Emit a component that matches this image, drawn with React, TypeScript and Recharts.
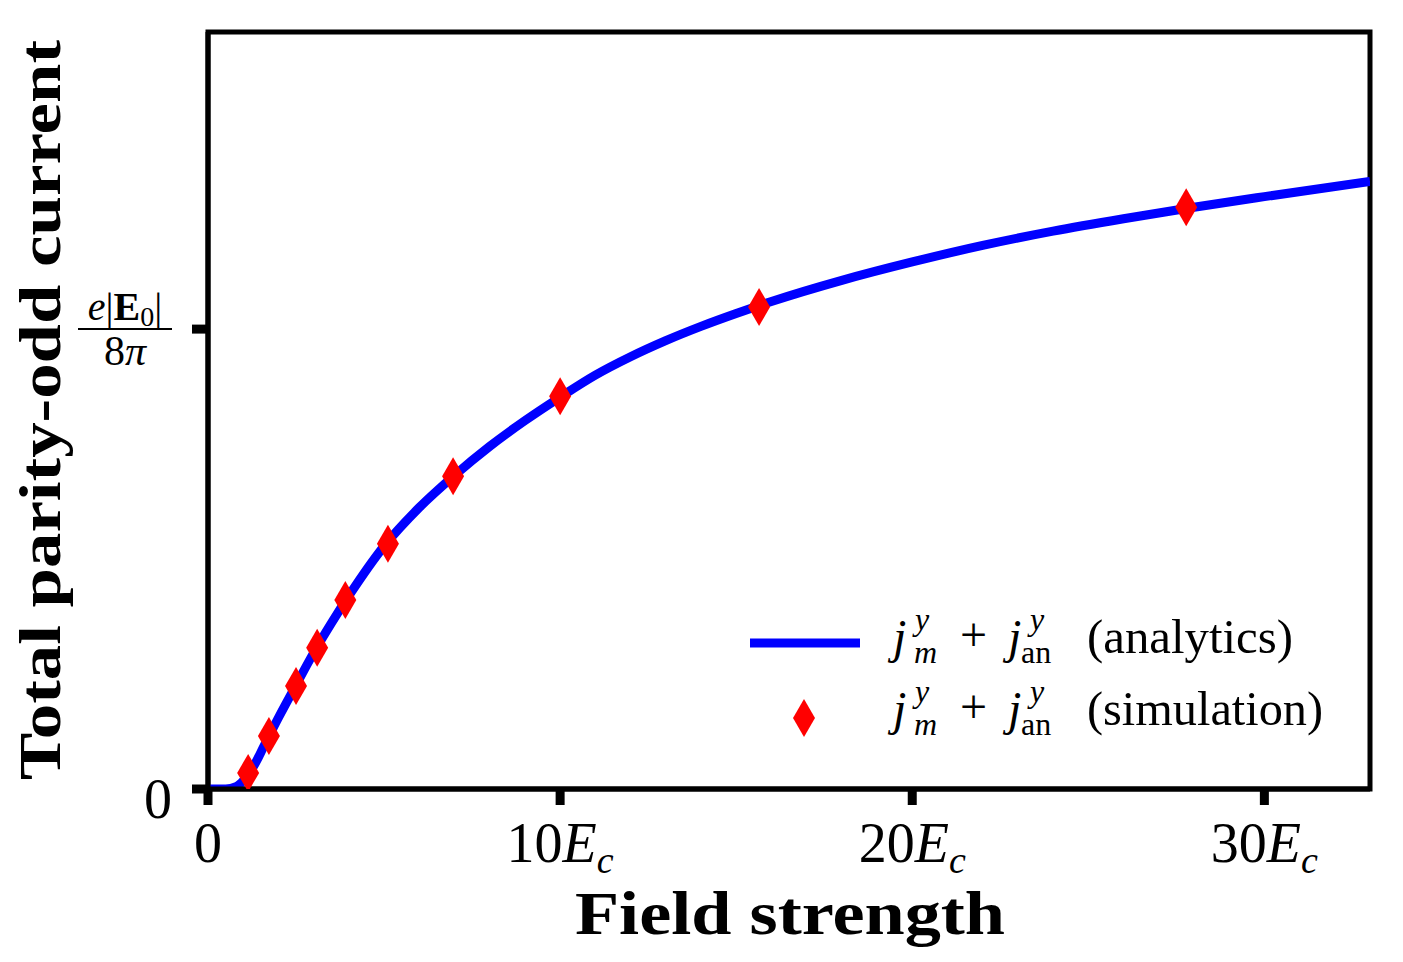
import React from 'react';
import {
  ComposedChart,
  Line,
  Scatter,
  XAxis,
  YAxis,
  ReferenceArea,
  Label,
} from 'recharts';

// analytic curve (x in units of E_c, y in units of e|E0|/8π)
const analyticX = [0, 0.5, 0.8, 1, 1.3, 1.6, 2, 2.5, 3, 3.5, 4, 5, 6, 7, 8, 9, 10, 11, 12, 13, 14, 15, 16, 18, 20, 22, 24, 26, 28, 30, 33];
const analyticY = [0, 0, 0.005, 0.018, 0.05, 0.095, 0.155, 0.226, 0.296, 0.36, 0.42, 0.528, 0.612, 0.682, 0.745, 0.801, 0.852, 0.9, 0.94, 0.975, 1.006, 1.034, 1.06, 1.106, 1.146, 1.182, 1.213, 1.24, 1.265, 1.288, 1.321];

// simulation points
const simX = [1.14, 1.73, 2.5, 3.1, 3.9, 5.11, 6.96, 10.0, 15.65, 27.78];
const simY = [0.035, 0.115, 0.224, 0.307, 0.411, 0.533, 0.68, 0.854, 1.048, 1.265];

const xTicks = [0, 10, 20, 30];
const yTicks = [0, 1];

const analytic = analyticX.map((x, i) => ({ x, y: analyticY[i] }));
const simulation = simX.map((x, i) => ({ x, y: simY[i] }));

const FONT = '"Liberation Serif", "DejaVu Serif", serif';

const Diamond = ({ cx, cy }: any) => (
  <polygon
    points={`${cx},${cy - 19} ${cx + 11},${cy} ${cx},${cy + 19} ${cx - 11},${cy}`}
    fill="#ff0000"
  />
);

const XTick = ({ x, y, payload }: any) => {
  const v = payload.value;
  if (v === 0) {
    return (
      <text x={x} y={y + 55} textAnchor="middle" fontFamily={FONT} fontSize={56} fill="#000">
        0
      </text>
    );
  }
  return (
    <text x={x} y={y + 55} textAnchor="middle" fontFamily={FONT} fontSize={56} fill="#000">
      {v}
      <tspan fontStyle="italic">E</tspan>
      <tspan fontStyle="italic" fontSize={38} dy={11}>c</tspan>
    </text>
  );
};

const YTick = ({ x, y, payload }: any) => {
  if (payload.value === 0) {
    return (
      <text x={x - 18} y={y + 29} textAnchor="end" fontFamily={FONT} fontSize={56} fill="#000">
        0
      </text>
    );
  }
  const cx = 125;
  return (
    <g fontFamily={FONT} fill="#000">
      <text x={cx} y={y - 9} textAnchor="middle" fontSize={40}>
        <tspan fontStyle="italic">e</tspan>|<tspan fontWeight="bold">E</tspan>
        <tspan fontSize={28} dy={6}>0</tspan>
        <tspan dy={-6}>|</tspan>
      </text>
      <line x1={cx - 47} x2={cx + 47} y1={y} y2={y} stroke="#000" strokeWidth={2} />
      <text x={cx} y={y + 36} textAnchor="middle" fontSize={42}>
        8<tspan fontStyle="italic">π</tspan>
      </text>
    </g>
  );
};

const JSum = ({ y }: { y: number }) => (
  <g fontFamily={FONT} fill="#000">
    <text x={153} y={y} fontSize={48} fontStyle="italic">j</text>
    <text x={175} y={y - 23} fontSize={32} fontStyle="italic">y</text>
    <text x={174} y={y + 10} fontSize={32} fontStyle="italic">m</text>
    <text x={220} y={y - 2} fontSize={48}>+</text>
    <text x={268} y={y} fontSize={48} fontStyle="italic">j</text>
    <text x={290} y={y - 23} fontSize={32} fontStyle="italic">y</text>
    <text x={281} y={y + 10} fontSize={32}>an</text>
  </g>
);

const LegendBox = () => (
  <svg width={640} height={170} style={{ position: 'absolute', left: 740, top: 590 }}>
    <line x1={10} x2={120} y1={53} y2={53} stroke="#0000ff" strokeWidth={9} />
    <Diamond cx={64} cy={128} />
    <JSum y={63} />
    <text x={347} y={63} fontFamily={FONT} fontSize={48} fill="#000" textLength={206} lengthAdjust="spacingAndGlyphs">
      (analytics)
    </text>
    <JSum y={135} />
    <text x={347} y={135} fontFamily={FONT} fontSize={48} fill="#000" textLength={236} lengthAdjust="spacingAndGlyphs">
      (simulation)
    </text>
  </svg>
);

const App: React.FC = () => {
  return (
    <div style={{ position: 'absolute', left: 0, top: 0, width: 1403, height: 962, background: '#fff' }}>
      <ComposedChart
        width={1403}
        height={962}
        margin={{ top: 32, right: 33, left: 108, bottom: 113 }}
      >
        <XAxis
          dataKey="x"
          type="number"
          domain={[0, 33]}
          ticks={xTicks}
          allowDataOverflow
          height={60}
          tick={<XTick />}
          tickSize={16}
          axisLine={{ stroke: '#000', strokeWidth: 5 }}
          tickLine={{ stroke: '#000', strokeWidth: 9 }}
        >
          <Label
            content={() => (
              <text
                x={790}
                y={934}
                textAnchor="middle"
                fontFamily={FONT}
                fontWeight="bold"
                fontSize={62}
                fill="#000"
                textLength={430}
                lengthAdjust="spacingAndGlyphs"
              >
                Field strength
              </text>
            )}
          />
        </XAxis>
        <YAxis
          dataKey="y"
          type="number"
          domain={[0, 1.646]}
          ticks={yTicks}
          allowDataOverflow
          width={100}
          tick={<YTick />}
          tickSize={16}
          axisLine={{ stroke: '#000', strokeWidth: 5 }}
          tickLine={{ stroke: '#000', strokeWidth: 9 }}
        >
          <Label
            content={() => (
              <text
                x={0}
                y={0}
                transform="translate(60 410) rotate(-90)"
                textAnchor="middle"
                fontFamily={FONT}
                fontWeight="bold"
                fontSize={60}
                fill="#000"
                textLength={740}
                lengthAdjust="spacingAndGlyphs"
              >
                Total parity-odd current
              </text>
            )}
          />
        </YAxis>
        <ReferenceArea x1={0} x2={33} y1={0} y2={1.646} fill="none" stroke="#000" strokeWidth={5} ifOverflow="visible" />
        <Line
          data={analytic}
          dataKey="y"
          type="monotone"
          stroke="#0000ff"
          strokeWidth={9}
          dot={false}
          isAnimationActive={false}
        />
        <Scatter data={simulation} dataKey="y" shape={<Diamond />} isAnimationActive={false} />
      </ComposedChart>
      <LegendBox />
    </div>
  );
};

export default App;
